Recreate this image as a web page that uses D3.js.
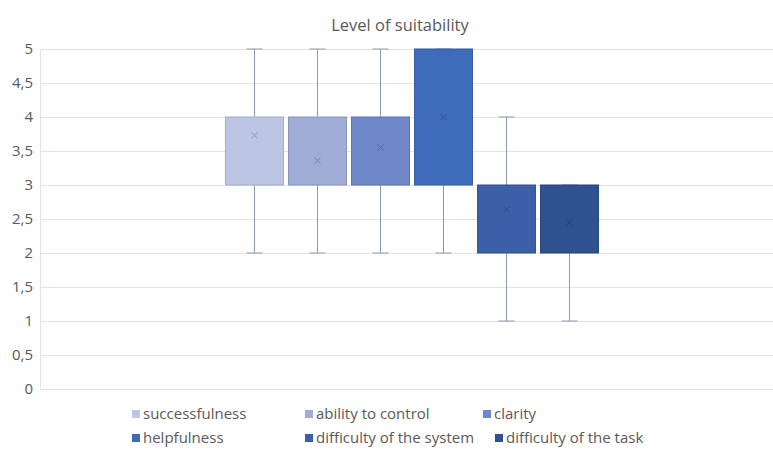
<!DOCTYPE html>
<html>
<head>
<meta charset="utf-8">
<script src="https://cdn.jsdelivr.net/npm/d3@7"></script>
<style>
  body { margin: 0; background: #fff; }
  text { font-family: "Open Sans", sans-serif; fill: #595959; }
</style>
</head>
<body>
<svg width="773" height="451"></svg>
<script>
// series and their box-plot statistics
const seriesNames = ["successfulness", "ability to control", "clarity", "helpfulness", "difficulty of the system", "difficulty of the task"];
const minVals = [2, 2, 2, 2, 1, 1];
const q1Vals = [3, 3, 3, 3, 2, 2];
const q3Vals = [4, 4, 4, 5, 3, 3];
const maxVals = [5, 5, 5, 5, 4, 3];
const meanVals = [3.73, 3.36, 3.55, 4.0, 2.64, 2.45];
const yTicks = [0, 0.5, 1, 1.5, 2, 2.5, 3, 3.5, 4, 4.5, 5];
const colors = ["#bcc6e4", "#9eacd6", "#6d87c8", "#3f6bbb", "#3b60a8", "#2f5190"];

const svg = d3.select("svg");
const margin = { top: 49, right: 0, bottom: 62, left: 40 };
const width = 773 - margin.left - margin.right;
const height = 451 - margin.top - margin.bottom;

const data = seriesNames.map((name, i) => ({
    name, min: minVals[i], q1: q1Vals[i], q3: q3Vals[i], max: maxVals[i], mean: meanVals[i], color: colors[i]
}));

const g = svg.append("g").attr("transform", `translate(${margin.left},${margin.top})`);

const y = d3.scaleLinear().domain([0, 5]).range([height, 0]);

// one category, six series grouped in the middle of the plot
const x = d3.scaleBand()
    .domain(seriesNames)
    .range([183, 561])
    .paddingInner(0.08)
    .paddingOuter(0.04);

// grid lines
g.append("g")
    .selectAll("line")
    .data(yTicks)
    .enter().append("line")
    .attr("x1", 0).attr("x2", width)
    .attr("y1", d => Math.round(y(d)) + 0.5).attr("y2", d => Math.round(y(d)) + 0.5)
    .attr("stroke", "#e3e3e3");

g.append("line")
    .attr("x1", 0.5).attr("x2", 0.5)
    .attr("y1", 0).attr("y2", height)
    .attr("stroke", "#e3e3e3");

// y axis labels
const yAxis = g.append("g")
    .call(d3.axisLeft(y).tickValues(yTicks).tickSize(0).tickPadding(7)
        .tickFormat(d => String(d).replace(".", ",")));
yAxis.select(".domain").remove();
yAxis.selectAll("text").style("font-size", "15px").attr("fill", "#595959");

// whiskers
const cap = 16;
const boxes = g.selectAll(".box").data(data).enter().append("g").attr("class", "box");

boxes.append("line")
    .attr("x1", d => x(d.name) + x.bandwidth() / 2).attr("x2", d => x(d.name) + x.bandwidth() / 2)
    .attr("y1", d => y(d.max)).attr("y2", d => y(d.min))
    .attr("stroke", "#8c98b0").attr("stroke-width", 1);

boxes.selectAll(".cap")
    .data(d => [d.min, d.max].map(v => ({ v, d })))
    .enter().append("line")
    .attr("x1", o => x(o.d.name) + x.bandwidth() / 2 - cap / 2)
    .attr("x2", o => x(o.d.name) + x.bandwidth() / 2 + cap / 2)
    .attr("y1", o => y(o.v)).attr("y2", o => y(o.v))
    .attr("stroke", "#8c98b0");

// boxes
boxes.append("rect")
    .attr("x", d => x(d.name))
    .attr("y", d => y(d.q3))
    .attr("width", x.bandwidth())
    .attr("height", d => y(d.q1) - y(d.q3))
    .attr("fill", d => d.color)
    .attr("stroke", d => d3.color(d.color).darker(0.4))
    .attr("stroke-width", 1);

// mean markers
const m = 3;
boxes.append("path")
    .attr("d", d => {
        const cx = x(d.name) + x.bandwidth() / 2, cy = y(d.mean);
        return `M${cx - m},${cy - m}L${cx + m},${cy + m}M${cx - m},${cy + m}L${cx + m},${cy - m}`;
    })
    .attr("stroke", d => d3.color(d.color).darker(0.7))
    .attr("stroke-width", 1);

// title
svg.append("text")
    .attr("x", 400).attr("y", 31)
    .attr("text-anchor", "middle")
    .style("font-size", "16.5px")
    .text("Level of suitability");

// legend
const legendPos = [[132, 419], [305, 419], [483, 419], [132, 443], [305, 443], [495, 443]];
const legend = svg.append("g").selectAll("g")
    .data(data).enter().append("g")
    .attr("transform", (d, i) => `translate(${legendPos[i][0]},${legendPos[i][1]})`);
legend.append("rect")
    .attr("x", 0).attr("y", -9).attr("width", 8).attr("height", 8)
    .attr("fill", d => d.color);
legend.append("text")
    .attr("x", 11).attr("y", 0)
    .style("font-size", "15px")
    .text(d => d.name);
</script>
</body>
</html>
